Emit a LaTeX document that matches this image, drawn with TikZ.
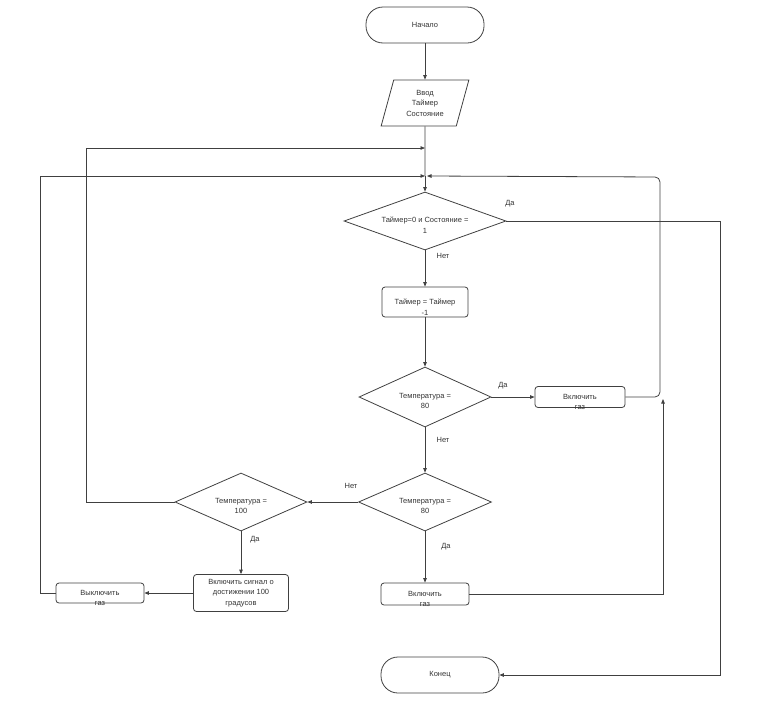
\documentclass[tikz,border=0pt]{standalone}
\usepackage{fontspec}
\setmainfont{Liberation Sans}
\usetikzlibrary{arrows.meta,shapes.geometric}
\begin{document}
\begin{tikzpicture}[x=1pt,y=-1pt,
  font=\fontsize{7.5}{10.5}\selectfont,
  every node/.style={text=black!80},
  ln/.style={draw=black!75,line width=0.8pt},
  arr/.style={ln,-{Triangle[length=4.5pt,width=3.5pt]}},
  term/.style={ln,rectangle,rounded corners=17pt,minimum width=118pt,minimum height=36pt,inner sep=0pt},
  boxx/.style={ln,rectangle,rounded corners=3pt,inner sep=0pt},
  dia/.style={ln,diamond,inner sep=0pt},
  io/.style={ln,trapezium,trapezium left angle=74,trapezium right angle=106,trapezium stretches=true,minimum width=88pt,minimum height=46pt,inner sep=0pt,align=center},
  tx/.style={align=center,inner sep=0pt},
  lab/.style={inner sep=0pt}]
\useasboundingbox (0,0) rectangle (783,718);

\node[term] (start) at (425,25) {Начало};
\node[io] (inp) at (425,103) {Ввод\\Таймер\\Состояние};
\coordinate (j1) at (425,148);
\coordinate (j2) at (425,176);
\node[dia,minimum width=162pt,minimum height=58pt,label={[tx,yshift=-4pt]center:Таймер=0 и Состояние =\\1}] (d1) at (425,221) {};
\node[boxx,minimum width=86pt,minimum height=30pt,label={[tx,yshift=-5pt]center:Таймер = Таймер\\-1}] (dec) at (425,302) {};
\node[dia,minimum width=132pt,minimum height=60pt,label={[tx,yshift=-4pt]center:Температура =\\80}] (d2) at (425,397) {};
\node[boxx,minimum width=90pt,minimum height=21pt,label={[tx,yshift=-5pt]center:Включить\\газ}] (gas1) at (580,397) {};
\node[dia,minimum width=133pt,minimum height=58pt,label={[tx,yshift=-4pt]center:Температура =\\80}] (d3) at (425,502) {};
\node[dia,minimum width=132pt,minimum height=58pt,label={[tx,yshift=-4pt]center:Температура =\\100}] (d4) at (241,502) {};
\node[boxx,minimum width=95pt,minimum height=37pt,tx] (sig) at (241,593) {Включить сигнал о\\достижении 100\\градусов};
\node[boxx,minimum width=88pt,minimum height=20pt,label={[tx,yshift=-5pt]center:Выключить\\газ}] (off) at (100,593) {};
\node[boxx,minimum width=88pt,minimum height=22pt,label={[tx,yshift=-5pt]center:Включить\\газ}] (gas2) at (425,594) {};
\node[term] (fin) at (440,675) {Конец};

\coordinate (rA) at (720,221);
\coordinate (rc) at (660,177);
\coordinate (rB) at (663,399);
\coordinate (lA) at (86,148);
\coordinate (lB) at (40,176);

\draw[arr] (start) -- (inp);
\draw[ln] (inp.south) -- (j1) -- (j2);
\draw[arr] (j2) -- (d1.north);
\draw[arr] (d1.east) -- (rA) |- (fin.east);
\draw[arr] (d1.south) -- (dec.north);
\draw[arr] (dec.south) -- (d2.north);
\draw[arr] (d2.east) -- (gas1.west);
\draw[arr,rounded corners=5pt] (gas1.east) -| (rc) -- ([xshift=2pt]j2);
\draw[arr] (d2.south) -- (d3.north);
\draw[arr] (d3.west) -- (d4.east);
\draw[arr] (d4.west) -| (lA) -- (j1);
\draw[arr] (d4.south) -- (sig.north);
\draw[arr] (sig.west) -- (off.east);
\draw[arr] (off.west) -| (lB) -- (j2);
\draw[arr] (d3.south) -- (gas2.north);
\draw[arr] (gas2.east) -| (rB);

\node[lab] at (510,204) {Да};
\node[lab] at (443,256) {Нет};
\node[lab] at (503,386) {Да};
\node[lab] at (443,440) {Нет};
\node[lab] at (351,486) {Нет};
\node[lab] at (255,540) {Да};
\node[lab] at (446,547) {Да};
\end{tikzpicture}
\end{document}
